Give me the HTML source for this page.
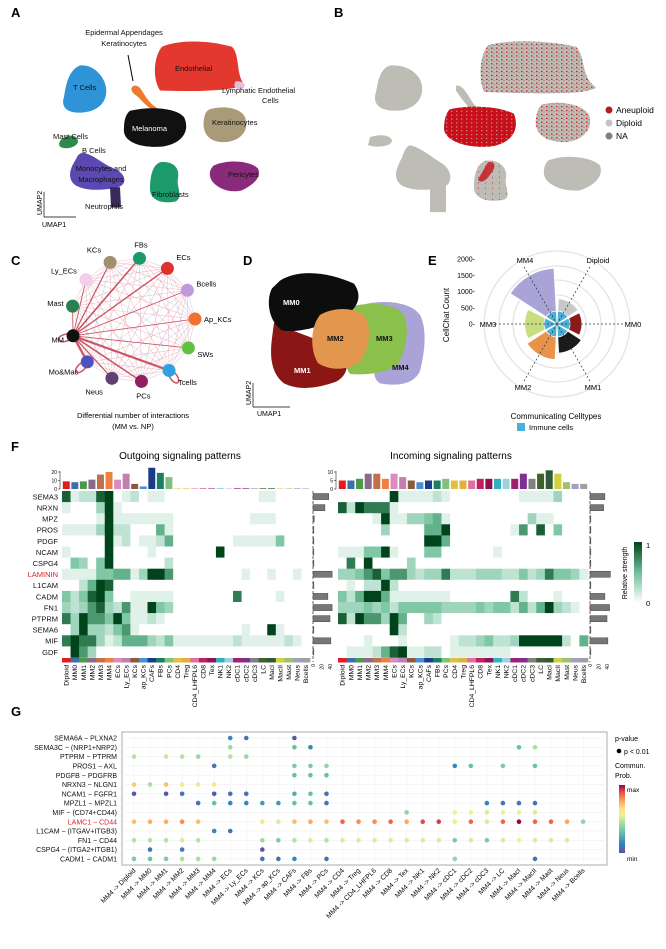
<!DOCTYPE html>
<html><head><meta charset="utf-8">
<style>
html,body{margin:0;padding:0;background:#fff;}
svg{display:block;font-family:"Liberation Sans",Arial,sans-serif;}
</style></head>
<body>
<svg id="fig" width="666" height="949" viewBox="0 0 666 949" xmlns="http://www.w3.org/2000/svg">
<defs>
<pattern id="speck" width="5" height="5" patternUnits="userSpaceOnUse">
<rect width="5" height="5" fill="#bdbdb5"/><rect x="1" y="1" width="1.5" height="1.5" fill="#c8101a"/><rect x="3.5" y="3" width="0.9" height="0.9" fill="#c8101a"/>
</pattern>
<pattern id="speck2" width="5" height="5" patternUnits="userSpaceOnUse">
<rect width="5" height="5" fill="#c8101a"/><rect x="1" y="2" width="1.3" height="1.3" fill="#d9a0a0"/>
</pattern>
<pattern id="speck3" width="7" height="7" patternUnits="userSpaceOnUse">
<rect width="7" height="7" fill="#bdbdb5"/><rect x="2" y="3" width="1" height="1" fill="#c8101a"/>
</pattern>
<linearGradient id="gGreen" x1="0" y1="1" x2="0" y2="0"><stop offset="0" stop-color="#ffffff"/><stop offset="0.5" stop-color="#6fc09a"/><stop offset="1" stop-color="#00441b"/></linearGradient>
<linearGradient id="gSpec" x1="0" y1="1" x2="0" y2="0"><stop offset="0" stop-color="#5e4fa2"/><stop offset="0.15" stop-color="#3288bd"/><stop offset="0.3" stop-color="#66c2a5"/><stop offset="0.45" stop-color="#abdda4"/><stop offset="0.55" stop-color="#e6f598"/><stop offset="0.65" stop-color="#fee08b"/><stop offset="0.75" stop-color="#fdae61"/><stop offset="0.85" stop-color="#f46d43"/><stop offset="0.92" stop-color="#d53e4f"/><stop offset="1" stop-color="#9e0142"/></linearGradient>
</defs>

<!-- Panel A -->
<g>
<text x="11" y="17" font-size="13" font-weight="bold">A</text>
<g transform="scale(1,0.78)">
<path d="M80,84 C92,82 104,96 106,112 C108,128 100,142 84,144 C70,146 60,140 64,124 C66,110 68,90 80,84Z" fill="#2f93d8"/>
<path d="M162,60 C180,50 210,52 232,60 C240,70 236,96 244,108 C236,116 200,118 160,116 C152,100 154,72 162,60Z" fill="#e2382e"/>
<path d="M236,104 C244,104 248,110 242,114 C236,116 232,110 236,104Z" fill="#e7c0dc"/>
<path d="M134,110 C140,108 142,118 148,128 C154,138 162,142 170,148 L166,150 C156,146 146,136 138,124 C130,118 130,112 134,110Z" fill="#f07a2c"/>
<path d="M130,142 C150,136 176,138 184,150 C190,166 184,184 162,188 C140,190 122,182 124,164 C124,154 126,146 130,142Z" fill="#111"/>
<path d="M210,140 C226,134 246,140 246,156 C248,172 236,184 220,182 C206,180 202,166 204,152 C205,146 206,142 210,140Z" fill="#a99a78"/>
<path d="M62,178 C68,172 78,172 78,182 C76,190 64,192 60,188 C58,184 60,180 62,178Z" fill="#2e8a4a"/>
<path d="M84,196 C96,200 102,210 114,216 C126,222 128,236 118,240 C104,244 84,246 74,236 C66,226 72,212 76,204 C78,198 80,196 84,196Z" fill="#5b48b0"/>
<path d="M110,240 L120,240 L121,266 L111,266Z" fill="#3a2a5a"/>
<path d="M160,208 C172,206 180,214 178,228 C176,240 184,252 176,258 C164,262 150,258 150,242 C150,228 152,212 160,208Z" fill="#1c9a6c"/>
<path d="M214,212 C228,204 250,206 258,216 C262,228 252,238 242,244 C230,248 218,242 212,232 C208,224 210,216 214,212Z" fill="#8a2a7a"/>
</g>
<line x1="128" y1="55" x2="133" y2="81" stroke="#000" stroke-width="1"/>
<g font-size="7.5" fill="#111">
<text x="124" y="35" text-anchor="middle">Epidermal Appendages</text>
<text x="124" y="46" text-anchor="middle">Keratinocytes</text>
<text x="175" y="71">Endothelial</text>
<text x="222" y="93">Lymphatic Endothelial</text>
<text x="262" y="103">Cells</text>
<text x="73" y="90">T Cells</text>
<text x="132" y="131" fill="#fff">Melanoma</text>
<text x="212" y="125">Keratinocytes</text>
<text x="53" y="139">Mast Cells</text>
<text x="82" y="153">B Cells</text>
<text x="101" y="171" text-anchor="middle">Monocytes and</text>
<text x="101" y="182" text-anchor="middle">Macrophages</text>
<text x="104" y="209" text-anchor="middle">Neutrophils</text>
<text x="152" y="197">Fibroblasts</text>
<text x="228" y="177">Pericytes</text>
</g>
<line x1="44" y1="217" x2="44" y2="192" stroke="#000" stroke-width="0.7"/>
<line x1="44" y1="217" x2="76" y2="217" stroke="#000" stroke-width="0.7"/>
<text x="42" y="215" font-size="7" transform="rotate(-90 42 215)">UMAP2</text>
<text x="42" y="227" font-size="7">UMAP1</text>
</g>

<!-- Panel B -->
<g>
<text x="334" y="17" font-size="13" font-weight="bold">B</text>
<g transform="scale(1,0.78)">
<path d="M390,84 C404,82 420,92 422,110 C424,126 414,142 396,142 C380,142 372,134 376,118 C378,104 380,88 390,84Z" fill="#bdbdb5"/>
<path d="M488,58 C510,50 550,52 576,60 C586,72 580,98 596,112 C588,122 540,120 484,118 C478,100 480,70 488,58Z" fill="url(#speck)"/>
<path d="M456,110 C462,108 466,118 472,130 C476,138 480,142 482,146 L476,148 C470,140 462,128 456,116Z" fill="#bdbdb5"/>
<path d="M450,140 C470,134 500,136 514,146 C520,166 512,184 490,188 C468,190 446,182 444,166 C444,154 446,144 450,140Z" fill="url(#speck2)"/>
<path d="M542,134 C560,128 588,134 590,152 C592,170 578,184 560,182 C542,180 534,168 536,152 C537,144 538,138 542,134Z" fill="url(#speck)"/>
<path d="M370,176 C378,172 390,172 392,180 C392,188 376,190 368,186Z" fill="#bdbdb5"/>
<path d="M410,186 C422,190 430,200 440,208 C452,216 454,234 444,240 C430,244 410,246 400,236 C392,226 398,212 402,202 C404,194 406,188 410,186Z M430,236 L446,236 L446,272 L430,272Z" fill="#bdbdb5"/>
<path d="M486,206 C498,204 508,214 506,228 C504,240 512,252 504,256 C490,260 474,256 474,240 C474,226 476,210 486,206Z" fill="url(#speck3)"/>
<path d="M488,208 C494,206 498,212 490,224 C486,232 480,236 478,230 Z" fill="#c8101a" opacity="0.8"/>
<path d="M548,206 C562,198 590,200 600,212 C604,226 594,238 580,244 C566,246 552,240 546,230 C542,222 544,212 548,206Z" fill="#bdbdb5"/>
</g>
<g font-size="8.5">
<circle cx="609" cy="110" r="3.5" fill="#b41c1c"/><text x="616" y="113">Aneuploid</text>
<circle cx="609" cy="123" r="3.5" fill="#c3c3c3"/><text x="616" y="126">Diploid</text>
<circle cx="609" cy="136" r="3.5" fill="#808080"/><text x="616" y="139">NA</text>
</g>
</g>

<!-- Panel C -->
<g id="panelC">
<text x="11" y="265" font-size="13" font-weight="bold">C</text>
<text x="133" y="418" font-size="7.5" text-anchor="middle">Differential number of interactions</text>
<text x="133" y="429" font-size="7.5" text-anchor="middle">(MM vs. NP)</text>
</g>

<!-- Panel D -->
<g>
<text x="243" y="265" font-size="13" font-weight="bold">D</text>
<g transform="translate(0,272) scale(1,0.7785) translate(0,-285)">
<path d="M360,328 C380,320 410,322 420,340 C428,360 424,392 420,412 C414,430 396,432 380,428 C370,420 376,400 372,380Z" fill="#a9a3d8"/>
<path d="M350,330 C370,322 396,326 404,340 C410,360 406,384 398,404 C388,414 366,418 350,416 C340,400 344,360 350,330Z" fill="#8cc04c"/>
<path d="M274,350 C290,360 312,368 330,380 C352,396 350,416 336,426 C318,434 300,438 284,428 C270,414 270,390 272,370Z" fill="#8a1616"/>
<path d="M280,296 C300,280 330,286 354,300 C364,318 356,334 342,344 C322,354 300,364 282,360 C268,348 266,320 272,306Z" fill="#0d0d0d"/>
<path d="M320,340 C334,330 352,330 364,340 C372,356 370,382 360,400 C348,412 330,412 318,402 C310,386 310,356 320,340Z" fill="#e2964e"/>
</g>
<g font-size="7.5" font-weight="bold" fill="#fff">
<text x="283" y="305">MM0</text>
<text x="327" y="341" fill="#111">MM2</text>
<text x="376" y="341" fill="#111">MM3</text>
<text x="294" y="373">MM1</text>
<text x="392" y="370" fill="#111">MM4</text>
</g>
<line x1="253" y1="407" x2="253" y2="383" stroke="#000" stroke-width="0.7"/>
<line x1="253" y1="407" x2="290" y2="407" stroke="#000" stroke-width="0.7"/>
<text x="251" y="405" font-size="7" transform="rotate(-90 251 405)">UMAP2</text>
<text x="257" y="416" font-size="7">UMAP1</text>
</g>

<!-- Panel E -->
<g id="panelE">
<text x="428" y="265" font-size="13" font-weight="bold">E</text>
<text x="449" y="315" font-size="8" text-anchor="middle" transform="rotate(-90 449 315)">CellChat Count</text>
<text x="556" y="419" font-size="8" text-anchor="middle">Communicating Celltypes</text>
<rect x="517" y="423" width="8" height="8" fill="#4bb0d8"/>
<text x="529" y="430" font-size="7.5">Immune cells</text>
</g>

<!-- Panel F -->
<g id="panelF">
<text x="11" y="451" font-size="13" font-weight="bold">F</text>
<text x="180" y="459" font-size="10" text-anchor="middle">Outgoing signaling patterns</text>
<text x="451" y="459" font-size="10" text-anchor="middle">Incoming signaling patterns</text>
<rect x="634" y="542" width="8" height="61" fill="url(#gGreen)"/>
<text x="646" y="548" font-size="7.5">1</text>
<text x="646" y="606" font-size="7.5">0</text>
<text x="627" y="573" font-size="7" text-anchor="middle" transform="rotate(-90 627 573)">Relative strength</text>
</g>

<!-- Panel G -->
<g id="panelG">
<text x="11" y="716" font-size="13" font-weight="bold">G</text>
<text x="615" y="741" font-size="7">p-value</text>
<circle cx="619" cy="751" r="2.3" fill="#000"/>
<text x="624" y="754" font-size="7">p &lt; 0.01</text>
<text x="615" y="768" font-size="7">Commun.</text>
<text x="615" y="778" font-size="7">Prob.</text>
<rect x="619" y="785" width="6" height="68" fill="url(#gSpec)"/>
<text x="627" y="792" font-size="6.5">max</text>
<text x="627" y="861" font-size="6.5">min</text>
</g>
</svg>

<script>
// ---------- Panel C data ----------
const netNodes = ["FBs","ECs","Bcells","Ap_KCs","SWs","Tcells","PCs","Neus","Mo&Mac","MM","Mast","Ly_ECs","KCs"];
const netColors = ["#1a9a6a","#e03030","#c09ad8","#f07030","#60c040","#30a0e0","#902060","#604070","#5050c0","#111111","#2a8050","#f0d0e8","#a09070"];
const netMMWeights = [1.6,1.4,0.8,0.8,0.8,2.2,1.6,1.2,2.4,0,0.9,0.9,1.2];

// ---------- Panel E data ----------
const polarCats = ["Diploid","MM0","MM1","MM2","MM3","MM4"];
const polarTotal = [780,770,900,1100,1000,1720];
const polarImmune = [400,400,400,400,400,400];
const polarTicks = [0,500,1000,1500,2000];

// ---------- Panel F data ----------
const cellTypes = ["Diploid","MM0","MM1","MM2","MM3","MM4","ECs","Ly_ECs","KCs","ap_KCs","CAFs","FBs","PCs","CD4","Treg","CD4_LHFPL6","CD8","Tex","NK1","NK2","cDC1","cDC2","cDC3","LC","MacI","MacII","Mast","Neus","Bcells"];
const cellColors = ["#e41a1c","#3d6fa8","#4a9a4a","#8a6a8a","#c0704a","#f08040","#d98cc0","#c080b0","#8a5a3a","#4a90d0","#1a3a8a","#1a8060","#80c080","#e0c040","#e0b040","#e070a0","#c02060","#901050","#30b0c0","#a0d0e0","#a02070","#803090","#808080","#406030","#305a30","#d0d040","#a0c070","#a0a0c0","#a0a0a0"];
const pathways = ["SEMA3","NRXN","MPZ","PROS","PDGF","NCAM","CSPG4","LAMININ","L1CAM","CADM","FN1","PTPRM","SEMA6","MIF","GDF"];
const outTop = [9,8,9,11,17,20,11,18,6,3,25,19,14,0.6,0.6,0.6,0.6,0.6,0.6,0.6,0.8,0.8,0.6,0.8,0.8,0.6,0.6,0.8,0.6];
const inTop = [5,5,6,9,9,6,9,7,5,4,5,5,6,5,5,5,6,6,6,6,6,9,6,9,11,9,4,3,3];
const outSide = [37,28,3,2,2,2,2,45,2,35,45,40,2,42,2];
const inSide = [35,32,2,2,2,2,2,48,2,35,46,40,2,42,2];
const out_SEMA3 = [8,1,2,2,8,9,0,1,2,0,1,1,0,0,0,0,0,0,0,0,0,0,0,1,1,0,0,0,0];
const out_NRXN = [1,0,0,0,3,9,1,0,0,0,0,0,0,0,0,0,0,0,0,0,0,0,0,0,0,0,0,0,0];
const out_MPZ = [0,0,0,0,1,9,1,1,1,1,1,1,1,0,0,0,0,0,0,0,0,0,1,1,1,0,0,0,0];
const out_PROS = [1,1,1,1,3,9,2,2,0,0,0,5,1,0,0,0,0,0,0,0,0,0,0,0,0,0,0,0,0];
const out_PDGF = [0,0,0,0,0,9,1,2,0,1,1,2,5,0,0,0,0,0,0,0,1,1,1,1,1,4,0,0,0];
const out_NCAM = [1,0,0,0,0,9,0,0,0,0,1,0,0,0,0,0,0,0,9,0,0,0,0,0,0,0,0,0,0];
const out_CSPG4 = [0,4,3,0,4,9,0,0,0,0,0,0,2,0,0,0,0,0,0,0,0,0,0,0,0,0,0,0,0];
const out_LAMININ = [1,1,1,1,4,4,5,5,1,3,9,9,6,0,0,0,0,0,0,0,0,1,0,0,1,0,0,1,0];
const out_L1CAM = [0,0,2,5,9,8,0,0,0,0,0,0,0,0,0,0,0,0,0,0,0,0,0,0,0,0,0,0,0];
const out_CADM = [4,2,4,8,9,4,0,0,1,1,1,1,1,0,0,0,0,0,0,0,7,0,0,0,0,1,0,0,0];
const out_FN1 = [3,2,3,6,8,3,2,6,1,1,9,4,3,0,0,0,0,0,0,0,0,0,0,0,0,0,0,0,0];
const out_PTPRM = [7,3,9,6,6,4,9,4,1,1,2,1,0,0,0,0,0,0,0,0,0,0,0,0,0,0,0,0,0];
const out_SEMA6 = [0,3,9,3,3,2,4,6,1,0,0,0,0,0,0,0,0,0,0,0,0,1,0,0,9,1,0,0,0];
const out_MIF = [7,9,7,7,3,1,2,5,5,5,3,2,4,1,1,1,1,1,1,1,2,1,1,1,1,1,2,1,0];
const out_GDF = [0,9,6,3,0,0,0,0,0,0,0,0,0,0,0,0,0,0,0,0,0,0,0,0,0,0,0,0,0];
const in_SEMA3 = [0,0,0,0,0,0,9,1,1,1,1,2,1,0,0,0,0,0,0,0,0,1,1,1,1,3,0,0,0];
const in_NRXN = [8,2,9,7,7,7,1,0,0,0,0,0,0,0,0,0,0,0,0,0,0,0,0,0,0,0,0,0,0];
const in_MPZ = [0,0,0,0,1,9,1,1,3,3,4,5,1,0,0,0,0,0,0,0,0,0,3,1,1,0,0,0,0];
const in_PROS = [0,0,0,0,0,3,0,0,0,0,5,5,9,0,0,0,0,0,0,0,1,6,0,8,0,4,0,0,0];
const in_PDGF = [0,0,0,0,0,0,0,0,0,0,9,9,5,0,0,0,0,0,0,0,0,0,0,0,0,0,0,0,0];
const in_NCAM = [1,1,1,4,4,9,1,0,0,0,4,4,0,0,0,0,0,0,1,0,0,0,0,0,0,0,0,0,0];
const in_CSPG4 = [0,7,0,9,0,0,0,0,3,0,0,0,0,0,0,0,0,0,0,0,0,0,0,0,0,0,0,0,0];
const in_LAMININ = [3,3,4,6,8,4,6,6,3,2,3,3,7,2,2,2,3,3,3,2,2,4,2,3,7,4,4,3,1];
const in_L1CAM = [0,1,0,2,2,9,2,0,0,0,0,0,0,0,0,0,0,0,0,0,0,0,0,0,0,0,0,0,0];
const in_CADM = [4,2,5,9,9,5,1,1,1,1,1,1,1,0,0,0,0,0,0,0,7,2,0,0,0,1,0,0,0];
const in_FN1 = [3,3,3,4,3,4,2,4,4,4,4,4,3,3,3,3,4,3,4,4,2,5,2,5,9,3,2,1,0];
const in_PTPRM = [8,2,9,6,6,3,9,5,0,0,3,2,0,0,0,0,0,0,0,0,0,0,0,0,0,0,0,0,0];
const in_SEMA6 = [0,0,0,0,0,0,9,2,0,0,0,0,0,0,0,0,0,0,0,0,0,0,0,0,0,0,0,0,0];
const in_MIF = [0,0,0,1,0,0,0,1,0,0,0,0,0,1,2,2,3,4,2,2,3,9,9,9,9,9,2,0,5];
const in_GDF = [0,1,1,1,2,5,8,9,1,1,2,2,0,1,1,1,1,1,1,1,0,0,0,0,0,0,0,0,0];
const outMatrix = [out_SEMA3,out_NRXN,out_MPZ,out_PROS,out_PDGF,out_NCAM,out_CSPG4,out_LAMININ,out_L1CAM,out_CADM,out_FN1,out_PTPRM,out_SEMA6,out_MIF,out_GDF];
const inMatrix = [in_SEMA3,in_NRXN,in_MPZ,in_PROS,in_PDGF,in_NCAM,in_CSPG4,in_LAMININ,in_L1CAM,in_CADM,in_FN1,in_PTPRM,in_SEMA6,in_MIF,in_GDF];

// ---------- Panel G data ----------
const lrPairs = ["SEMA6A − PLXNA2","SEMA3C − (NRP1+NRP2)","PTPRM − PTPRM","PROS1 − AXL","PDGFB − PDGFRB","NRXN3 − NLGN1","NCAM1 − FGFR1","MPZL1 − MPZL1","MIF − (CD74+CD44)","LAMC1 − CD44","L1CAM − (ITGAV+ITGB3)","FN1 − CD44","CSPG4 − (ITGA2+ITGB1)","CADM1 − CADM1"];
const _ = null;
const g_SEMA6A = [_,_,_,_,_,_,0.15,0.1,_,_,0.02,_,_,_,_,_,_,_,_,_,_,_,_,_,_,_,_,_,_];
const g_SEMA3C = [_,_,_,_,_,_,0.42,_,_,_,0.3,0.15,_,_,_,_,_,_,_,_,_,_,_,_,0.3,0.45,_,_,_];
const g_PTPRM = [0.47,_,0.5,0.47,0.42,_,0.47,0.42,_,_,_,_,_,_,_,_,_,_,_,_,_,_,_,_,_,_,_,_,_];
const g_PROS1 = [_,_,_,_,_,0.1,_,_,_,_,0.35,0.35,0.4,_,_,_,_,_,_,_,0.15,0.3,_,0.35,_,0.3,_,_,_];
const g_PDGFB = [_,_,_,_,_,_,_,_,_,_,0.3,0.3,0.3,_,_,_,_,_,_,_,_,_,_,_,_,_,_,_,_];
const g_NRXN3 = [0.7,0.45,0.72,0.58,0.62,0.62,_,_,_,_,_,_,_,_,_,_,_,_,_,_,_,_,_,_,_,_,_,_,_];
const g_NCAM1 = [0.02,_,0.02,0.1,_,0.02,0.1,0.1,_,_,0.25,0.3,0.1,_,_,_,_,_,_,_,_,_,_,_,_,_,_,_,_];
const g_MPZL1 = [_,_,_,_,0.1,0.3,0.15,0.15,0.2,0.2,0.3,0.3,0.1,_,_,_,_,_,_,_,_,_,0.15,0.1,0.1,0.1,_,_,_];
const g_MIF = [_,_,_,_,_,_,_,_,_,_,_,_,_,_,_,_,_,0.4,_,_,0.56,0.56,0.52,0.56,0.56,0.52,_,_,_];
const g_LAMC1 = [0.72,0.75,0.75,0.8,0.72,_,_,_,0.62,0.52,0.72,0.76,0.72,0.86,0.8,0.8,0.86,0.76,0.9,0.92,0.6,0.86,0.52,0.86,1.0,0.86,0.86,0.76,0.4];
const g_L1CAM = [_,_,_,_,_,0.15,0.1,_,_,_,_,_,_,_,_,_,_,_,_,_,_,_,_,_,_,_,_,_,_];
const g_FN1 = [0.47,0.47,0.47,0.52,0.47,_,_,_,0.42,0.35,0.47,0.52,0.47,0.52,0.52,0.52,0.52,0.52,0.52,0.52,0.35,0.52,0.35,0.52,0.56,0.52,0.52,0.52,_];
const g_CSPG4 = [_,0.1,_,0.1,_,_,_,_,0.02,_,_,_,_,_,_,_,_,_,_,_,_,_,_,_,_,_,_,_,_];
const g_CADM1 = [0.35,0.3,0.35,0.45,0.45,0.42,_,_,0.1,0.1,0.15,_,0.1,_,_,_,_,_,_,_,0.4,_,_,_,_,0.1,_,_,_];
const gMatrix = [g_SEMA6A,g_SEMA3C,g_PTPRM,g_PROS1,g_PDGFB,g_NRXN3,g_NCAM1,g_MPZL1,g_MIF,g_LAMC1,g_L1CAM,g_FN1,g_CSPG4,g_CADM1];

const NS = "http://www.w3.org/2000/svg";
function mk(parent, tag, attrs, text){
  const e = document.createElementNS(NS, tag);
  for (const k in attrs) e.setAttribute(k, attrs[k]);
  if (text !== undefined) e.textContent = text;
  parent.appendChild(e);
  return e;
}
function lerp(a,b,t){return a+(b-a)*t;}
function hex(c){return [parseInt(c.slice(1,3),16),parseInt(c.slice(3,5),16),parseInt(c.slice(5,7),16)];}
function ramp(stops, t){
  t=Math.max(0,Math.min(1,t));
  for(let i=1;i<stops.length;i++){
    if(t<=stops[i][0]){
      const s=stops[i-1], e=stops[i], u=(t-s[0])/(e[0]-s[0]);
      const a=hex(s[1]), b=hex(e[1]);
      return "rgb("+Math.round(lerp(a[0],b[0],u))+","+Math.round(lerp(a[1],b[1],u))+","+Math.round(lerp(a[2],b[2],u))+")";
    }
  }
  return stops[stops.length-1][1];
}
const greenStops=[[0,"#ffffff"],[0.5,"#6fc09a"],[1,"#00441b"]];
const specStops=[[0,"#5e4fa2"],[0.15,"#3288bd"],[0.3,"#66c2a5"],[0.45,"#abdda4"],[0.55,"#e6f598"],[0.65,"#fee08b"],[0.75,"#fdae61"],[0.85,"#f46d43"],[0.92,"#d53e4f"],[1,"#9e0142"]];

// ---------- Panel C ----------
(function(){
  const g = document.getElementById("panelC");
  const cx=133, cy=320, R=62;
  const pos = netNodes.map((n,i)=>{const a=(-84+i*(360/netNodes.length))*Math.PI/180; return [cx+R*Math.cos(a), cy+R*Math.sin(a)];});
  const eg = mk(g,"g",{});
  for(let i=0;i<pos.length;i++) for(let j=i+1;j<pos.length;j++){
    const blue = (i+j)%5===0;
    const ln = mk(eg,"line",{x1:pos[i][0],y1:pos[i][1],x2:pos[j][0],y2:pos[j][1],stroke:blue?"rgba(140,170,220,0.35)":"rgba(215,110,130,0.35)","stroke-width":0.7});
    
    
  }
  const mm = netNodes.indexOf("MM");
  netNodes.forEach((n,i)=>{
    if(i===mm) return;
    const ln = mk(eg,"line",{x1:pos[mm][0],y1:pos[mm][1],x2:pos[i][0],y2:pos[i][1],stroke:"rgba(190,40,60,0.75)","stroke-width":netMMWeights[i]});
    
    
  });
  [mm,8,5].forEach(i=>{
    const [x,y]=pos[i]; const dx=x-cx, dy=y-cy, d=Math.hypot(dx,dy);
    mk(eg,"ellipse",{cx:x+dx/d*8,cy:y+dy/d*8,rx:7,ry:3.5,fill:"none",stroke:"rgba(190,40,60,0.8)","stroke-width":1.5,transform:"rotate("+(Math.atan2(dy,dx)*180/Math.PI)+" "+(x+dx/d*8)+" "+(y+dy/d*8)+")"});
  });
  netNodes.forEach((n,i)=>{
    const [x,y]=pos[i];
    const c = mk(g,"circle",{cx:x,cy:y,r:6.5,fill:netColors[i]});
    
    
    const dx=x-cx, dy=y-cy, d=Math.hypot(dx,dy);
    const central = Math.abs(dx)<15;
    const t = mk(g,"text",{x:central?x+dx/d*14:x+(dx>0?9:-9),y:y+dy/d*14+3,"font-size":7.5,"text-anchor":central?"middle":(dx>0?"start":"end")}, n);
    
    
  });
})();

// ---------- Panel E ----------
(function(){
  const g = document.getElementById("panelE");
  const cx=557, cy=324, pxPer=65/2000;
  const r = v => v*pxPer;
  [15,29,44,58,73].forEach(rr=>mk(g,"circle",{cx:cx,cy:cy,r:rr,fill:"none",stroke:"#e4e4e4","stroke-width":1.3}));
  polarTicks.forEach(t=>{
    const tx = mk(g,"text",{x:475,y:cy-r(t)+2.5,"font-size":7,"text-anchor":"end"}, t+"-");
    
    
  });
  function wedge(a0,a1,rad){
    const p=(a)=>[cx+rad*Math.sin(a*Math.PI/180), cy-rad*Math.cos(a*Math.PI/180)];
    const s=p(a0), e=p(a1);
    return "M"+cx+","+cy+" L"+s[0]+","+s[1]+" A"+rad+","+rad+" 0 0 1 "+e[0]+","+e[1]+" Z";
  }
  const cols=["#c8c8c8","#8b1a1a","#1a1a1a","#e8924a","#c8dc80","#a9a3d8"];
  polarCats.forEach((c,i)=>{
    const a=30+i*60;
    const w=mk(g,"path",{d:wedge(a-27,a+27,r(polarTotal[i])),fill:cols[i],stroke:"#fff","stroke-width":1});
    
    
  });
  polarCats.forEach((c,i)=>{
    const a=30+i*60;
    const w=mk(g,"path",{d:wedge(a-27,a+27,r(polarImmune[i])),fill:"#4bb0d8",stroke:"#fff","stroke-width":0.8});
    
    
  });
  const labPos=[[598,263,"middle"],[633,327,"middle"],[593,390,"middle"],[523,390,"middle"],[488,327,"middle"],[525,263,"middle"]];
  polarCats.forEach((c,i)=>{
    const a=(30+i*60)*Math.PI/180;
    mk(g,"line",{x1:cx,y1:cy,x2:cx+68*Math.sin(a),y2:cy-68*Math.cos(a),stroke:"#333","stroke-width":0.7,"stroke-dasharray":"2,2"});
    const t=mk(g,"text",{x:labPos[i][0],y:labPos[i][1],"font-size":7.5,"text-anchor":labPos[i][2]},c);
    
    
  });
})();

// ---------- Panel F ----------
(function(){
  const g=document.getElementById("panelF");
  const top=491, rowH=11.1, n=cellTypes.length;
  function heat(x0,width,matrix,topVals,topMax,topTicks,sideVals,sideX,side){
    const cw=width/n;
    const colX=i=>x0+i*cw;
    const rowY=j=>top+j*rowH;
    const barScale=v=>v/topMax*17;
    topVals.forEach((v,i)=>{
      const b=mk(g,"rect",{x:colX(i)+0.8,y:489-barScale(v),width:cw-1.6,height:barScale(v),fill:cellColors[i]});
      
      
    });
    mk(g,"line",{x1:x0-2,y1:471,x2:x0-2,y2:489,stroke:"#000","stroke-width":0.5});
    topTicks.forEach(t=>{
      const ty=489-barScale(t);
      mk(g,"line",{x1:x0-4,y1:ty,x2:x0-2,y2:ty,stroke:"#000","stroke-width":0.5});
      mk(g,"text",{x:x0-5,y:ty+2,"font-size":5,"text-anchor":"end"},String(t));
    });
    matrix.forEach((row,j)=>{
      row.forEach((v,i)=>{
        const c=mk(g,"rect",{x:colX(i),y:rowY(j),width:cw+0.3,height:rowH+0.3,fill:ramp(greenStops,v/9)});
        
        
      });
    });
    const stripY = top+matrix.length*rowH+0.5;
    cellColors.forEach((c,i)=>{
      const s=mk(g,"rect",{x:colX(i),y:stripY,width:cw+0.3,height:4.5,fill:c});
      
      
    });
    cellTypes.forEach((c,i)=>{
      const tx=colX(i)+cw/2+2.4, ty=stripY+7;
      const t=mk(g,"text",{x:tx,y:ty,"font-size":6.8,"text-anchor":"end",transform:"rotate(-90 "+tx+" "+ty+")"},c);
      
      
    });
    const sScale=v=>v/40*17;
    mk(g,"line",{x1:sideX,y1:top,x2:sideX,y2:stripY+4,stroke:"#000","stroke-width":0.6,"stroke-dasharray":"3,2"});
    sideVals.forEach((v,j)=>{
      const b=mk(g,"rect",{x:sideX,y:rowY(j)+2.5,width:sScale(v),height:rowH-5,fill:"#777",stroke:"#444","stroke-width":0.5});
      
      
    });
    [0,20,40].forEach(t=>{
      const tx=sideX+sScale(t)+2, ty=stripY+6;
      mk(g,"text",{x:tx,y:ty,"font-size":5,"text-anchor":"end",transform:"rotate(-90 "+tx+" "+ty+")"},String(t));
    });
  }
  heat(62,248,outMatrix,outTop,20,[0,10,20],outSide,313,"out");
  heat(338,250,inMatrix,inTop,10,[0,5,10],inSide,590,"in");
  pathways.forEach((p,j)=>{
    const t=mk(g,"text",{x:58,y:top+j*rowH+rowH/2+2.8,"font-size":7.5,"text-anchor":"end",fill:p==="LAMININ"?"#e02020":"#111"},p);
    
    
  });
})();

// ---------- Panel G ----------
(function(){
  const g=document.getElementById("panelG");
  const x0=122,x1=607,y0=732,y1=865;
  const colX=i=>134+i*16.04;
  const rowY=j=>738+j*9.3;
  mk(g,"rect",{x:x0,y:y0,width:x1-x0,height:y1-y0,fill:"#fff",stroke:"#888","stroke-width":0.7});
  cellTypes.forEach((c,i)=>mk(g,"line",{x1:colX(i),y1:y0,x2:colX(i),y2:y1,stroke:"#eee","stroke-width":0.5}));
  lrPairs.forEach((p,j)=>{
    mk(g,"line",{x1:x0,y1:rowY(j),x2:x1,y2:rowY(j),stroke:"#eee","stroke-width":0.5});
    const t=mk(g,"text",{x:117,y:rowY(j)+2.6,"font-size":7,"text-anchor":"end",fill:p.startsWith("LAMC1")?"#e02020":"#111"},p);
    
    
  });
  gMatrix.forEach((row,j)=>{
    row.forEach((v,i)=>{
      if(v===null) return;
      const d=mk(g,"circle",{cx:colX(i),cy:rowY(j),r:2.3,fill:ramp(specStops,v)});
      
      
    });
  });
  cellTypes.forEach((c,i)=>{
    const tx=colX(i)+2, ty=871;
    const t=mk(g,"text",{x:tx,y:ty,"font-size":6.8,"text-anchor":"end",transform:"rotate(-45 "+tx+" "+ty+")"},"MM4 -> "+c);
    
    
  });
})();
</script>
</body></html>
